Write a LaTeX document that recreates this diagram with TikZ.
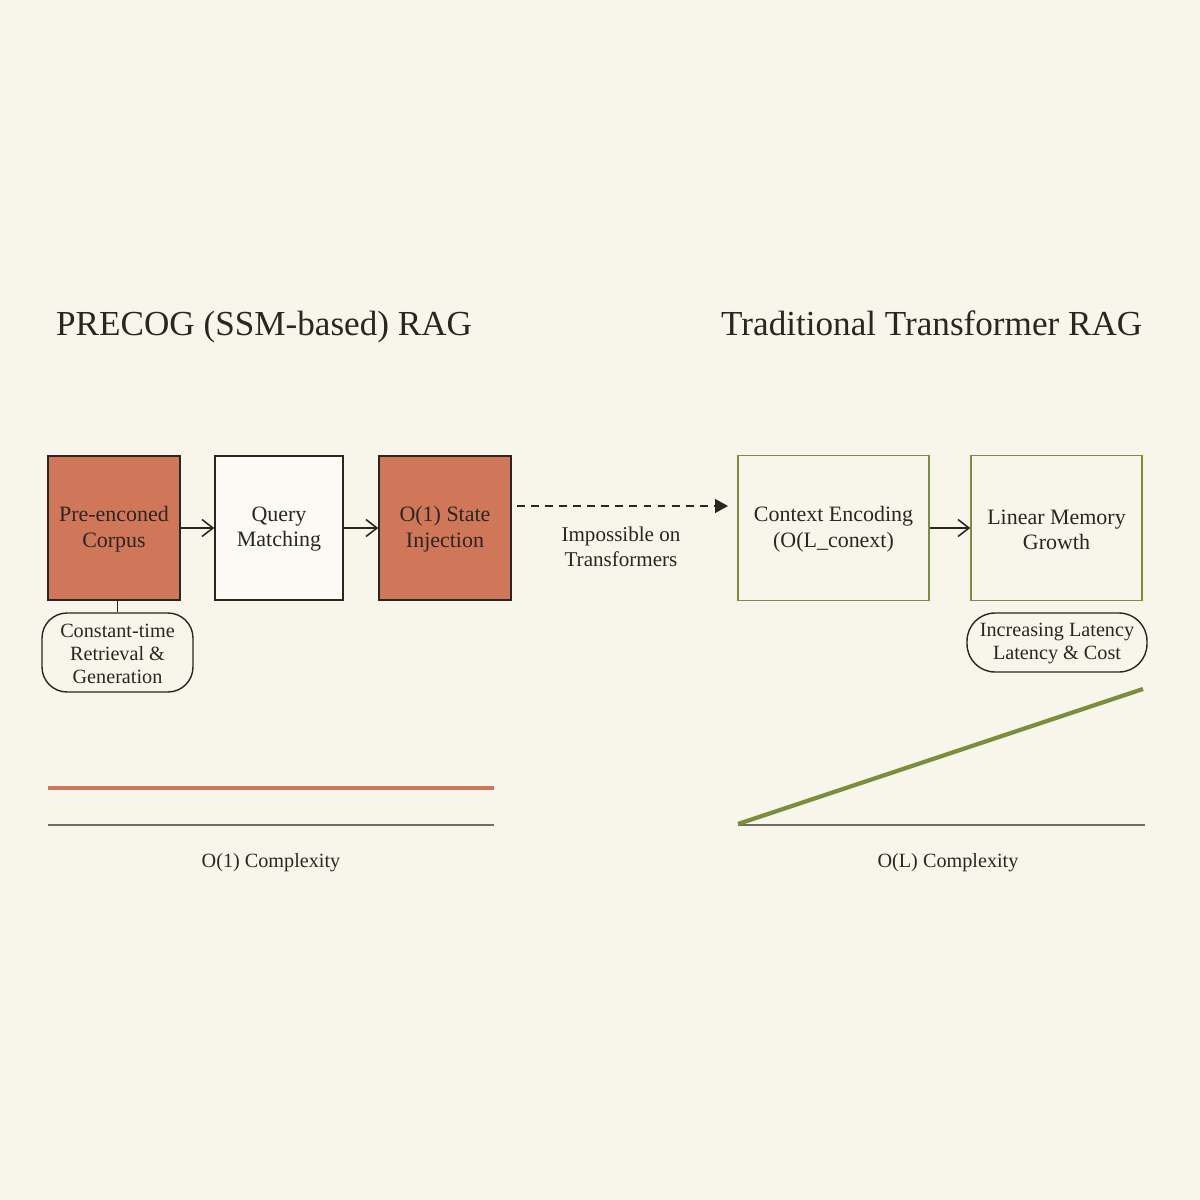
\documentclass[tikz,border=0pt]{standalone}
\usepackage{fontspec}
\setmainfont{Liberation Serif}
\usetikzlibrary{arrows.meta}
\definecolor{bg}{HTML}{F8F5EB}
\definecolor{rust}{HTML}{D0775A}
\definecolor{olive}{HTML}{7B8E3A}
\definecolor{ink}{HTML}{2A2622}
\definecolor{paper}{HTML}{FCFAF4}
\definecolor{axis}{HTML}{6E6A64}
\tikzset{
  box/.style={draw=ink, line width=0.85pt, minimum height=2.88cm, align=center, text=ink, font=\fontsize{12.5}{14.3}\selectfont, inner sep=2pt},
  rustbox/.style={box, fill=rust},
  plainbox/.style={box, fill=paper},
  greenbox/.style={box, draw=olive, fill=bg, minimum height=2.9cm},
  pill/.style={draw=ink, line width=0.8pt, rounded corners=0.5cm, align=center, text=ink, font=\fontsize{11.5}{13}\selectfont, inner sep=1pt},
  flow/.style={draw=ink, line width=0.9pt, -{Straight Barb[length=2.2mm,width=3.4mm]}},
  titletext/.style={text=ink, font=\fontsize{20}{24}\selectfont, anchor=base west},
  caption/.style={text=ink, font=\fontsize{11.5}{13.5}\selectfont, align=center},
}
\begin{document}
\begin{tikzpicture}[x=0.02cm,y=-0.02cm]
\fill[bg] (0,0) rectangle (1200,1200);
\useasboundingbox (0,0) rectangle (1200,1200);

\node[titletext] (t1) at (50,335) {PRECOG (SSM-based) RAG};
\node[titletext] (t2) at (715,335) {Traditional Transformer RAG};

\node[rustbox, minimum width=2.64cm] (b1) at (114,528) {\strut Pre-enconed\\Corpus};
\node[plainbox, minimum width=2.56cm] (b2) at (279,528) {\strut Query\\Matching};
\node[rustbox, minimum width=2.64cm] (b3) at (445,528) {\strut O(1) State\\Injection};

\node[greenbox, minimum width=3.82cm] (b4) at (833.5,528) {\strut Context Encoding\\(O(L\_conext)};
\node[greenbox, minimum width=3.42cm] (b5) at (1056.5,528) {\strut Linear Memory\\Growth};

\draw[flow] (b1) -- (b2);
\draw[flow] (b2) -- (b3);
\draw[flow] (b4) -- (b5);

\coordinate (d0) at (517,506);
\coordinate (d1) at (728,506);
\draw[draw=ink, line width=0.8pt, dash pattern=on 4.5pt off 3.5pt, -{Triangle[length=2.6mm,width=2.8mm]}] (d0) -- (d1);
\node[caption, font=\fontsize{12}{14}\selectfont] (imp) at (621,547) {Impossible on\\Transformers};

\node[pill, minimum width=3.02cm, minimum height=1.58cm] (p1) at (117.5,652.5) {\strut Constant-time\\Retrieval \&\\Generation};
\draw[ink, line width=0.6pt] (b1.south -| p1.north) -- (p1.north);
\node[pill, rounded corners=0.56cm, minimum width=3.6cm, minimum height=1.18cm] (p2) at (1057,642.5) {\strut Increasing Latency\\Latency \& Cost};

% left complexity plot
\coordinate (l0) at (48,788);
\coordinate (l1) at (494,788);
\coordinate (a0) at (48,825);
\coordinate (a1) at (494,825);
\draw[rust, line width=2.4pt] (l0) -- (l1);
\draw[axis, line width=0.9pt] (a0) -- (a1);
\node[caption] (c1) at (271,863) {O(1) Complexity};

% right complexity plot
\coordinate (r0) at (738,824);
\coordinate (r1) at (1143,689);
\coordinate (ra0) at (738,825);
\coordinate (ra1) at (1145,825);
\draw[axis, line width=0.9pt] (ra0) -- (ra1);
\draw[olive, line width=2.4pt] (r0) -- (r1);
\node[caption] (c2) at (948,863) {O(L) Complexity};
\end{tikzpicture}
\end{document}
